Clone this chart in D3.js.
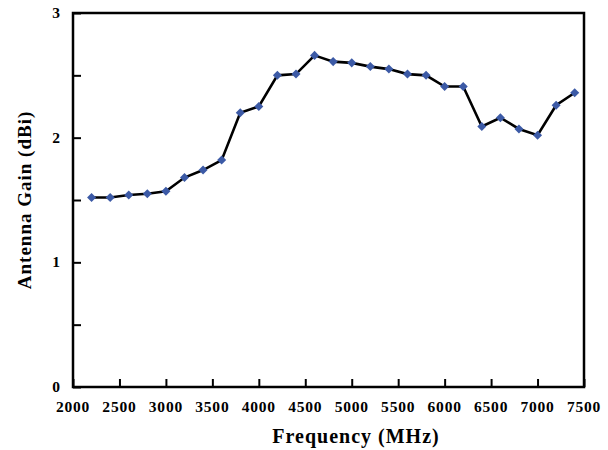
<!DOCTYPE html>
<html><head><meta charset="utf-8">
<script src="https://cdn.jsdelivr.net/npm/d3@7"></script>
<style>body{margin:0;background:#fff}svg{display:block}</style>
</head><body>
<script>
const freqs = [2200,2400,2600,2800,3000,3200,3400,3600,3800,4000,4200,4400,4600,4800,5000,5200,5400,5600,5800,6000,6200,6400,6600,6800,7000,7200,7400];
const gains = [1.52,1.52,1.54,1.55,1.57,1.68,1.74,1.82,2.20,2.25,2.50,2.51,2.66,2.61,2.60,2.57,2.55,2.51,2.50,2.41,2.41,2.09,2.16,2.07,2.02,2.26,2.36];
const xTicks = [2000,2500,3000,3500,4000,4500,5000,5500,6000,6500,7000,7500];
const yTicks = [0,1,2,3];
const yMinor = [0.5,1.5,2.5];

const W=608,H=450;
const m={l:73,r:584,t:13,b:387};
const svg=d3.select("body").append("svg").attr("width",W).attr("height",H);
const x=d3.scaleLinear().domain([2000,7500]).range([m.l,m.r]);
const y=d3.scaleLinear().domain([0,3]).range([m.b,m.t]);
const font="'Liberation Serif','Times New Roman',serif";

const xa=svg.append("g").attr("transform",`translate(0,${m.b})`)
  .call(d3.axisTop(x).tickValues(xTicks).tickSize(8).tickFormat(""));
xa.select(".domain").remove();
xa.selectAll("line").attr("stroke","#000").attr("stroke-width",2);
svg.append("g").selectAll("text").data(xTicks).join("text")
  .attr("x",d=>x(d)).attr("y",m.b+25).attr("text-anchor","middle")
  .attr("font-family",font).attr("font-weight","bold").attr("font-size",15.5)
  .attr("letter-spacing",0.8).text(d=>d);

const ya=svg.append("g").attr("transform",`translate(${m.l},0)`)
  .call(d3.axisRight(y).tickValues(yTicks.concat(yMinor)).tickSize(8).tickFormat(""));
ya.select(".domain").remove();
ya.selectAll("line").attr("stroke","#000").attr("stroke-width",2);
svg.append("g").selectAll("text").data(yTicks).join("text")
  .attr("x",m.l-13).attr("y",d=>y(d)+5).attr("text-anchor","end")
  .attr("font-family",font).attr("font-weight","bold").attr("font-size",15.5).text(d=>d);

svg.append("rect").attr("x",m.l).attr("y",m.t).attr("width",m.r-m.l).attr("height",m.b-m.t)
  .attr("fill","none").attr("stroke","#000").attr("stroke-width",2.5);

const pts=freqs.map((f,i)=>[f,gains[i]]);
svg.append("path").datum(pts)
  .attr("d",d3.line().x(d=>x(d[0])).y(d=>y(d[1])))
  .attr("fill","none").attr("stroke","#000").attr("stroke-width",2.6);
svg.append("g").selectAll("path").data(pts).join("path")
  .attr("transform",d=>`translate(${x(d[0])},${y(d[1])})`)
  .attr("d",d3.symbol(d3.symbolDiamond2,52)())
  .attr("fill","#3c5aa6");

svg.append("text").attr("x",356).attr("y",443).attr("text-anchor","middle")
  .attr("font-family",font).attr("font-weight","bold").attr("font-size",20)
  .attr("letter-spacing",1).text("Frequency (MHz)");
svg.append("text").attr("transform","translate(31,200) rotate(-90)").attr("text-anchor","middle")
  .attr("font-family",font).attr("font-weight","bold").attr("font-size",19)
  .attr("letter-spacing",1).text("Antenna Gain (dBi)");
</script>
</body></html>
